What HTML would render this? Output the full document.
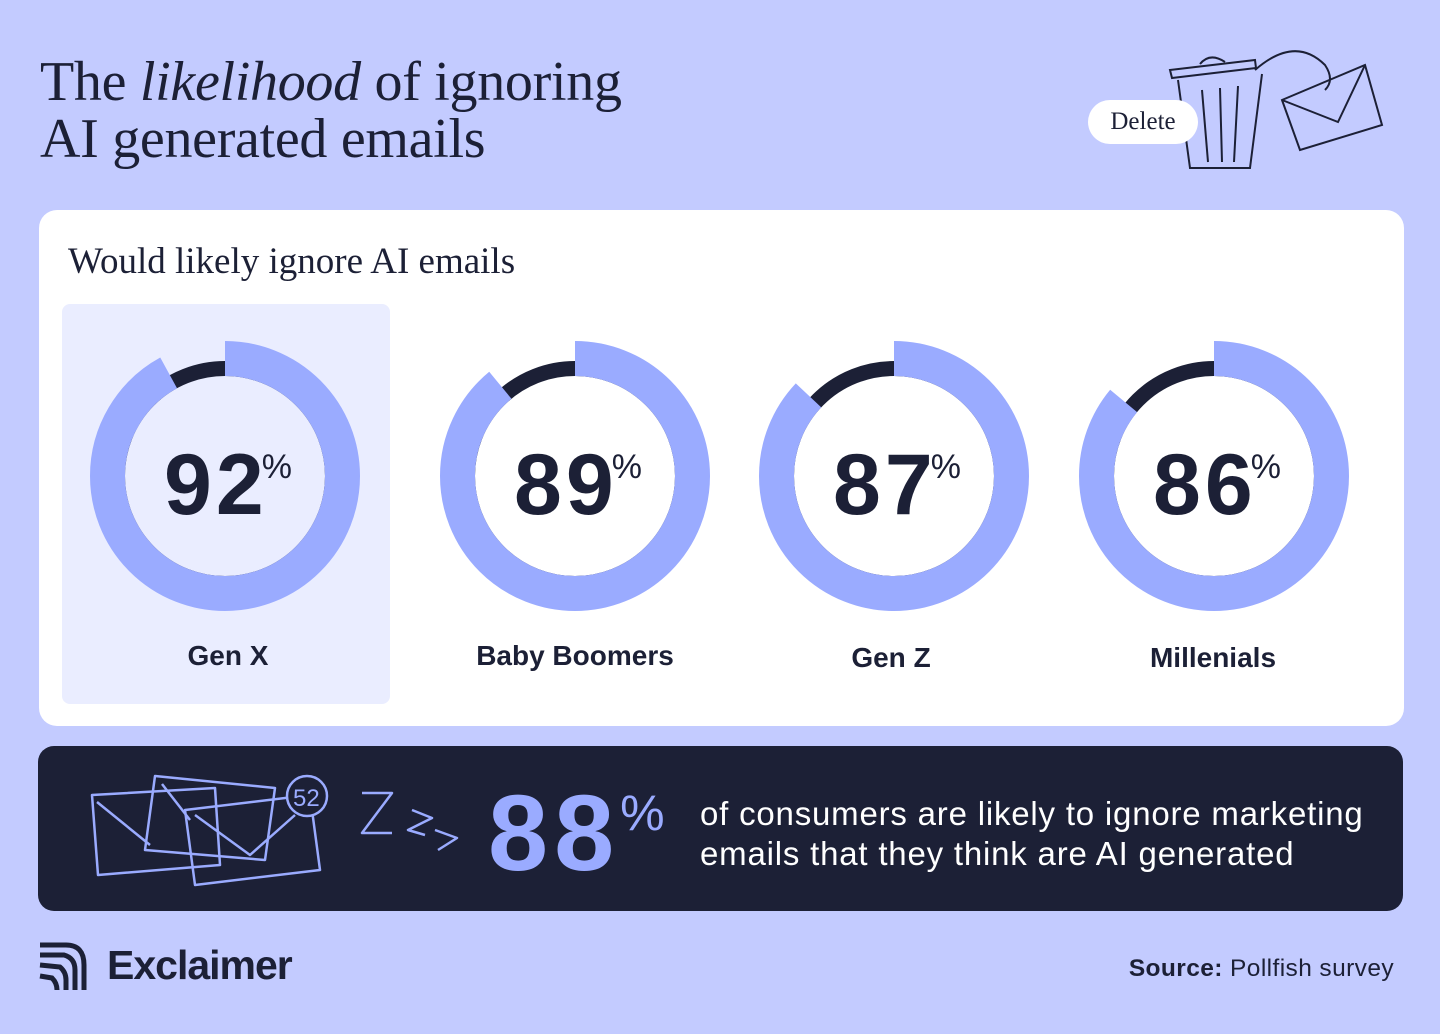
<!DOCTYPE html>
<html><head><meta charset="utf-8"><style>
*{margin:0;padding:0;box-sizing:border-box}
body{width:1440px;height:1034px;background:#c3cbff;font-family:"Liberation Sans",sans-serif;color:#1c2036;position:relative;overflow:hidden}
.title{position:absolute;left:40px;top:54px;font-family:"Liberation Serif",serif;font-size:56px;line-height:57px;color:#1c2036;letter-spacing:-0.3px}
.card{position:absolute;left:39px;top:210px;width:1365px;height:516px;background:#fff;border-radius:18px}
.sub{position:absolute;left:68px;top:240px;font-family:"Liberation Serif",serif;font-size:37px;color:#1c2036}
.hl{position:absolute;left:62px;top:304px;width:328px;height:400px;background:#eaedff;border-radius:8px}
.pct{position:absolute;width:260px;text-align:center;font-weight:bold;font-size:86px;letter-spacing:4px;top:436px}
.pct sup{font-size:34px;font-weight:normal;vertical-align:top;position:relative;top:12px;letter-spacing:0;margin-left:-6px}
.lab{position:absolute;width:300px;text-align:center;font-weight:bold;font-size:28px;top:640px}
.dark{position:absolute;left:38px;top:746px;width:1365px;height:165px;background:#1c2036;border-radius:16px}
.big{position:absolute;left:488px;top:770px;font-size:108px;font-weight:bold;color:#9aabff;letter-spacing:6px}
.big span{font-size:50px;font-weight:normal;vertical-align:top;position:relative;top:14px;letter-spacing:0}
.txt{position:absolute;left:700px;top:794px;color:#fff;font-size:33px;line-height:40px;letter-spacing:0.8px}
.logo{position:absolute;left:107px;top:942px;font-size:41px;font-weight:bold;letter-spacing:-1px}
.src{position:absolute;right:46px;top:955px;font-size:24.5px;letter-spacing:0.4px}
.pill{position:absolute;left:1088px;top:100px;width:110px;height:44px;background:#fff;border-radius:22px;font-family:"Liberation Serif",serif;font-size:25px;text-align:center;line-height:44px}
</style></head><body>
<div class="title">The <i>likelihood</i> of ignoring<br>AI generated emails</div>
<svg style="position:absolute;left:1160px;top:40px" width="240" height="140" fill="none" stroke="#1c2036" stroke-width="2">
<path d="M10 30 L95 20 L96 28 L12 38Z"/><path d="M40 24 q10 -12 25 -2"/>
<path d="M18 40 L30 128 L90 128 L102 34"/><path d="M42 50 L48 122 M60 48 L62 122 M78 46 L74 122"/>
<path d="M95 30 q40 -35 70 -5 q10 15 0 25"/>
<path d="M122 60 L205 25 L222 85 L140 110Z"/><path d="M122 60 L178 82 L205 25"/>
</svg>
<div class="pill">Delete</div>
<div class="card"></div>
<div class="sub">Would likely ignore AI emails</div>
<div class="hl"></div>
<svg style="position:absolute;left:0;top:0" width="1440" height="760">
<g fill="none">
<g transform="translate(225,476) rotate(-90)"><circle r="107.5" stroke="#1c2036" stroke-width="15"/><circle r="117.5" stroke="#9aabff" stroke-width="35" stroke-dasharray="679.2 1000"/></g>
<g transform="translate(575,476) rotate(-90)"><circle r="107.5" stroke="#1c2036" stroke-width="15"/><circle r="117.5" stroke="#9aabff" stroke-width="35" stroke-dasharray="657.1 1000"/></g>
<g transform="translate(894,476) rotate(-90)"><circle r="107.5" stroke="#1c2036" stroke-width="15"/><circle r="117.5" stroke="#9aabff" stroke-width="35" stroke-dasharray="642.3 1000"/></g>
<g transform="translate(1214,476) rotate(-90)"><circle r="107.5" stroke="#1c2036" stroke-width="15"/><circle r="117.5" stroke="#9aabff" stroke-width="35" stroke-dasharray="634.9 1000"/></g>
</g></svg>
<div class="pct" style="left:98px">92<sup>%</sup></div>
<div class="pct" style="left:448px">89<sup>%</sup></div>
<div class="pct" style="left:767px">87<sup>%</sup></div>
<div class="pct" style="left:1087px">86<sup>%</sup></div>
<div class="lab" style="left:78px">Gen X</div>
<div class="lab" style="left:425px">Baby Boomers</div>
<div class="lab" style="left:741px;top:642px">Gen Z</div>
<div class="lab" style="left:1063px;top:642px">Millenials</div>
<div class="dark"></div>
<svg style="position:absolute;left:80px;top:760px" width="400" height="140" fill="none" stroke="#9aabff" stroke-width="2.5" stroke-linejoin="round">
<path d="M12 35 L135 28 L140 105 L18 115Z"/><path d="M17 42 L70 85"/>
<path d="M75 16 L195 28 L185 100 L65 90Z"/><path d="M82 24 L110 60"/>
<path d="M105 50 L230 35 L240 110 L115 125Z"/><path d="M115 55 L170 95 L215 55"/>
<circle cx="227" cy="36" r="20" fill="#1c2036"/>
<text x="213" y="46" fill="#9aabff" stroke="none" font-size="24" font-family="Liberation Sans">52</text>
<path d="M282 33 L312 33 L282 73 L312 73"/><path d="M332 50 L352 58 L328 70 L345 75"/><path d="M355 70 L377 78 L358 90"/>
</svg>
<div class="big">88<span>%</span></div>
<div class="txt">of consumers are likely to ignore marketing<br>emails that they think are AI generated</div>
<svg style="position:absolute;left:38px;top:940px" width="52" height="52" fill="none" stroke="#1c2036" stroke-width="5">
<path d="M2 5 L28 5 Q46 5 46 25 L46 50"/><path d="M2 15 L26 15 Q37 18 37 30 L37 50"/><path d="M2 25 L22 27 Q28 32 28 40 L28 50"/><path d="M2 36 L14 38 Q19 43 19 50"/>
</svg>
<div class="logo">Exclaimer</div>
<div class="src"><b>Source:</b> Pollfish survey</div>
</body></html>
